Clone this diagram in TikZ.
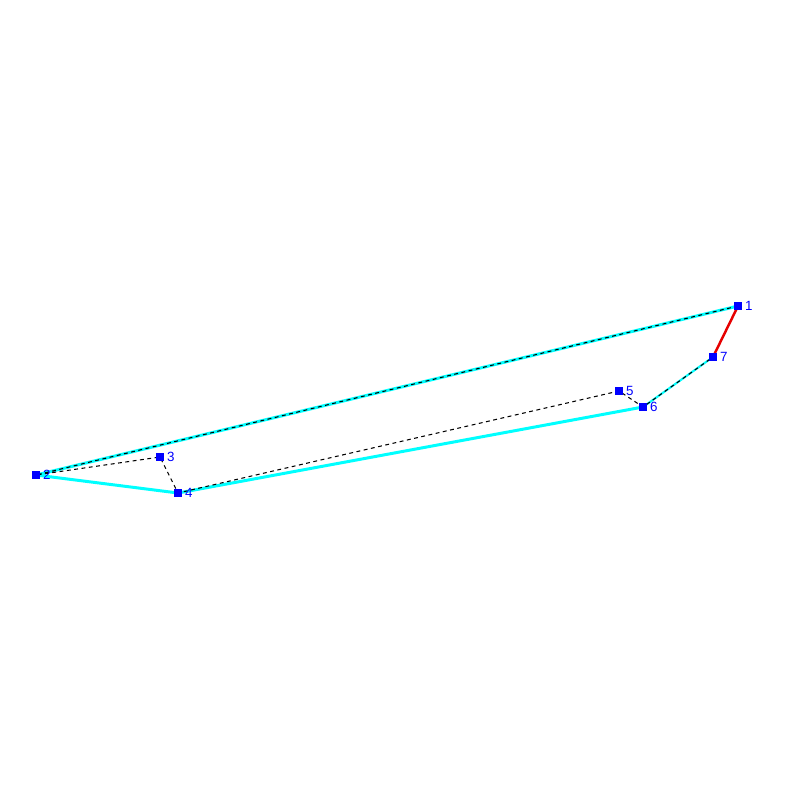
\documentclass[tikz,border=0pt]{standalone}
\usepackage{fontspec}
\setmainfont{Liberation Sans}
\definecolor{edgecyan}{RGB}{0,255,255}
\definecolor{ptblue}{RGB}{0,0,255}
\definecolor{edgered}{RGB}{230,0,0}
\tikzset{
	pt/.style={fill=ptblue, draw=none, minimum size=2.1pt, inner sep=0pt},
	lbl/.style={text=ptblue, font=\fontsize{3.8}{4}\selectfont, inner sep=0.6pt, anchor=west},
	edge/.style={edgecyan, line width=0.85pt},
	hidden/.style={black, dash pattern=on 1.1pt off 1pt, line width=0.3pt}
}
\begin{document}
\begin{tikzpicture}[x=0.01cm, y=-0.01cm, line join=round]
			\useasboundingbox (0,0) rectangle (800,800);
			\coordinate (P1) at (738,306);
			\coordinate (P2) at (36,475);
			\coordinate (P3) at (160,457);
			\coordinate (P4) at (178,493);
			\coordinate (P5) at (619,391);
			\coordinate (P6) at (643,407);
			\coordinate (P7) at (713,357);
			
			\draw[edge] (P1) -- (P2) -- (P4) -- (P6);
			\draw[edge, line width=0.6pt] (P6) -- (P7);
			\draw[edgered, line width=0.7pt] (P7) -- (P1);
			
			\draw[hidden] (P1) -- (P2) -- (P3) -- (P4) -- (P5) -- (P6) -- (P7);
			
			\foreach \i in {1,...,7} {
				\node[pt] (n\i) at (P\i) {};
				\node[lbl] at (n\i.east) {\i};
			}
		\end{tikzpicture}
\end{document}
